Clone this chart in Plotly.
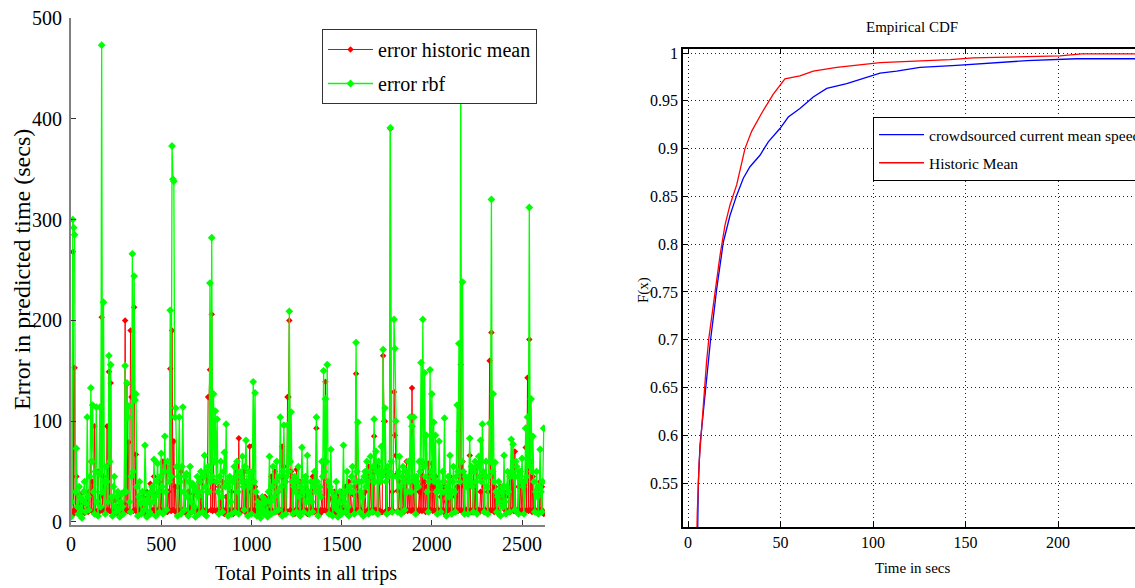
import plotly.graph_objects as go

W, H = 1135, 588

# ---------------- Left chart data (sampled every 5 points) ----------------
point_index = list(range(0, 2625, 5))

error_historic_mean = [
    9, 11, 268, 8, 153, 12, 45, 10, 12, 10, 27, 10, 10, 12, 18, 9, 11, 12, 20, 10,
    30, 12, 60, 11, 40, 10, 95, 10, 8, 11, 50, 10, 25, 12, 203, 11, 45, 12, 12, 11,
    95, 12, 149, 11, 138, 10, 20, 10, 8, 12, 22, 9, 15, 12, 25, 10, 10, 11, 18, 10,
    200, 12, 137, 11, 79, 10, 190, 124, 124, 11, 213, 12, 67, 10, 25, 11, 12, 12, 15, 10,
    25, 11, 8, 12, 30, 10, 10, 10, 38, 11, 11, 12, 45, 10, 28, 12, 8, 11, 40, 12,
    30, 12, 60, 11, 11, 10, 55, 10, 30, 12, 152, 11, 190, 12, 80, 11, 35, 10, 8, 12,
    35, 11, 50, 12, 10, 10, 45, 10, 8, 12, 30, 11, 39, 10, 15, 12, 28, 11, 12, 12,
    10, 12, 40, 11, 25, 10, 45, 10, 8, 12, 50, 11, 124, 124, 151, 12, 206, 11, 60, 12,
    40, 11, 10, 12, 35, 10, 20, 10, 40, 11, 8, 12, 25, 10, 35, 12, 10, 11, 30, 10,
    8, 12, 40, 11, 50, 10, 83, 12, 10, 11, 45, 12, 50, 10, 40, 12, 30, 11, 75, 12,
    40, 11, 76, 12, 35, 10, 25, 12, 22, 11, 10, 24, 25, 10, 20, 25, 8, 22, 18, 11,
    30, 12, 45, 11, 10, 10, 50, 10, 40, 12, 30, 11, 8, 12, 75, 11, 55, 12, 40, 11,
    124, 124, 200, 12, 50, 11, 45, 10, 8, 12, 52, 11, 30, 12, 40, 10, 25, 11, 12, 12,
    35, 11, 8, 12, 25, 10, 30, 12, 45, 11, 10, 12, 93, 11, 30, 10, 8, 12, 25, 11,
    60, 12, 139, 11, 40, 10, 35, 12, 10, 22, 25, 11, 30, 12, 8, 20, 27, 11, 15, 22,
    30, 11, 25, 12, 35, 10, 8, 12, 40, 11, 30, 12, 10, 27, 35, 11, 147, 12, 40, 11,
    25, 12, 8, 27, 27, 11, 30, 10, 10, 12, 55, 11, 40, 12, 50, 10, 85, 12, 12, 11,
    55, 12, 40, 11, 10, 10, 165, 100, 100, 11, 50, 12, 12, 10, 390, 12, 30, 11, 129, 86,
    66, 47, 31, 12, 40, 11, 10, 12, 45, 10, 35, 12, 60, 11, 30, 12, 40, 11, 133, 12,
    40, 11, 35, 12, 10, 10, 30, 12, 50, 11, 58, 12, 40, 10, 35, 12, 58, 11, 49, 12,
    58, 11, 35, 12, 45, 10, 30, 12, 10, 11, 25, 12, 35, 10, 40, 12, 20, 11, 30, 12,
    45, 11, 30, 12, 10, 10, 25, 12, 35, 11, 90, 12, 156, 11, 60, 12, 35, 10, 12, 12,
    40, 11, 66, 12, 10, 10, 50, 12, 35, 11, 55, 12, 12, 10, 30, 12, 50, 11, 35, 12,
    10, 11, 30, 12, 160, 11, 188, 12, 50, 10, 35, 12, 25, 11, 8, 25, 35, 24, 20, 22,
    30, 12, 25, 11, 10, 12, 45, 10, 50, 12, 60, 11, 70, 12, 10, 10, 35, 12, 40, 11,
    35, 12, 40, 11, 74, 12, 143, 11, 181, 12, 60, 10, 45, 12, 30, 11, 10, 12, 35, 11,
    40, 12, 35, 11, 8,
]

error_rbf = [
    5, 20, 300, 292, 285, 30, 73, 15, 8, 35, 25, 12, 4, 22, 30, 40, 10, 18, 104, 25,
    12, 45, 133, 60, 116, 30, 8, 50, 114, 20, 6, 48, 114, 15, 473, 30, 218, 40, 8, 55,
    40, 20, 165, 60, 156, 25, 6, 35, 45, 15, 10, 25, 30, 12, 5, 20, 28, 15, 8, 30,
    155, 30, 138, 104, 115, 20, 10, 45, 266, 50, 244, 121, 127, 35, 6, 25, 40, 18, 8, 30,
    20, 12, 76, 18, 5, 22, 28, 10, 8, 30, 35, 20, 62, 25, 6, 40, 58, 30, 10, 45,
    68, 35, 8, 50, 85, 30, 12, 60, 50, 40, 210, 45, 373, 340, 338, 104, 113, 55, 6, 45,
    104, 40, 8, 55, 114, 30, 12, 45, 48, 25, 6, 40, 55, 20, 10, 38, 35, 15, 5, 30,
    45, 25, 8, 40, 50, 30, 10, 45, 66, 35, 6, 50, 55, 30, 237, 40, 282, 45, 127, 60,
    110, 40, 102, 30, 8, 45, 60, 25, 10, 50, 69, 35, 97, 40, 6, 35, 45, 20, 8, 40,
    40, 55, 10, 45, 60, 30, 8, 50, 45, 40, 65, 35, 12, 55, 81, 40, 6, 50, 35, 45,
    8, 50, 139, 40, 128, 30, 6, 20, 15, 10, 4, 18, 25, 12, 8, 22, 20, 10, 5, 30,
    65, 20, 8, 35, 55, 25, 10, 40, 60, 30, 12, 45, 104, 35, 6, 50, 96, 40, 8, 45,
    96, 50, 209, 60, 109, 40, 8, 35, 45, 30, 10, 40, 55, 25, 6, 35, 74, 30, 10, 40,
    45, 20, 66, 30, 8, 25, 40, 20, 10, 35, 50, 30, 104, 40, 6, 30, 35, 25, 60, 45,
    150, 50, 122, 60, 156, 40, 8, 35, 72, 30, 6, 20, 25, 15, 40, 12, 5, 20, 30, 10,
    8, 25, 76, 20, 10, 30, 50, 15, 6, 35, 30, 45, 55, 30, 8, 40, 178, 50, 99, 40,
    10, 30, 40, 25, 6, 45, 50, 35, 60, 40, 8, 50, 65, 45, 10, 55, 102, 40, 70, 50,
    8, 60, 50, 40, 75, 45, 171, 50, 113, 40, 8, 55, 45, 50, 391, 60, 10, 45, 201, 172,
    100, 45, 10, 50, 65, 35, 8, 45, 55, 40, 12, 50, 50, 30, 60, 40, 104, 30, 95, 45,
    104, 40, 8, 45, 40, 35, 60, 50, 158, 60, 201, 55, 148, 45, 86, 30, 10, 40, 151, 50,
    127, 45, 99, 40, 86, 30, 8, 40, 80, 35, 10, 30, 50, 40, 103, 30, 6, 35, 45, 25,
    66, 30, 8, 40, 55, 30, 10, 45, 116, 50, 177, 40, 450, 60, 238, 50, 8, 45, 40, 35,
    8, 45, 83, 40, 55, 35, 10, 50, 60, 40, 8, 55, 65, 45, 81, 40, 97, 50, 10, 45,
    60, 35, 8, 45, 98, 60, 320, 50, 127, 40, 59, 30, 10, 25, 40, 20, 6, 30, 35, 15,
    66, 20, 8, 35, 50, 30, 10, 45, 82, 50, 77, 45, 12, 60, 55, 45, 8, 50, 50, 40,
    63, 35, 8, 40, 93, 45, 104, 60, 312, 55, 122, 50, 85, 40, 10, 30, 50, 25, 8, 35,
    72, 30, 10, 40, 93,
]

# ---------------- Right chart data (empirical CDF) ----------------
hist_x = [4.3, 5.0, 6.0, 7.0, 8.3, 10.0, 11.3, 12.8, 14.6, 17.3, 20.0, 22.7, 26.3,
          30.8, 34.4, 39.8, 46.1, 52.4, 60.5, 67.7, 80.4, 93.0, 103.8, 129.0,
          141.6, 154.2, 181.2, 201.0, 212.8, 245.0]
hist_F = [0.45, 0.518, 0.571, 0.599, 0.637, 0.676, 0.702, 0.725, 0.750, 0.788, 0.820,
          0.841, 0.862, 0.900, 0.918, 0.937, 0.957, 0.973, 0.976, 0.981, 0.985,
          0.988, 0.990, 0.992, 0.993, 0.995, 0.996, 0.997, 0.999, 0.999]

crowd_x = [5.0, 5.6, 6.5, 7.5, 9.2, 10.8, 12.2, 13.8, 15.5, 19.1, 22.7, 26.3, 29.9,
           33.5, 38.9, 43.4, 49.7, 54.2, 60.5, 67.7, 75.0, 85.8, 96.6, 103.8,
           112.8, 125.4, 145.2, 170.4, 183.0, 210.0, 245.0]
crowd_F = [0.47, 0.55, 0.59, 0.61, 0.637, 0.67, 0.70, 0.725, 0.753, 0.802, 0.830,
           0.851, 0.869, 0.881, 0.893, 0.907, 0.921, 0.933, 0.942, 0.954, 0.963,
           0.968, 0.975, 0.979, 0.981, 0.985, 0.987, 0.990, 0.992, 0.994, 0.994]

x_ticks_left = [0, 500, 1000, 1500, 2000, 2500]
y_ticks_left = [0, 100, 200, 300, 400, 500]
x_ticks_right = [0, 50, 100, 150, 200]
y_ticks_right = [0.55, 0.6, 0.65, 0.7, 0.75, 0.8, 0.85, 0.9, 0.95, 1]
y_tick_text_right = ["0.55", "0.6", "0.65", "0.7", "0.75", "0.8", "0.85", "0.9", "0.95", "1"]

SERIF = "Liberation Serif, Times New Roman, serif"


def px_x(p):
    return p / W


def px_y(p):
    return 1 - p / H


fig = go.Figure()

fig.add_trace(go.Scatter(
    x=point_index, y=error_historic_mean, mode="lines+markers",
    name="error historic mean", line=dict(color="#ff0000", width=1),
    marker=dict(symbol="diamond", size=5, color="#ff0000"),
    xaxis="x", yaxis="y", legend="legend", legendgroup="a",
))
fig.add_trace(go.Scatter(
    x=point_index, y=error_rbf, mode="lines+markers",
    name="error rbf", line=dict(color="#00ff00", width=1.3),
    marker=dict(symbol="diamond", size=6, color="#00ff00"),
    xaxis="x", yaxis="y", legend="legend", legendgroup="b",
))

fig.add_trace(go.Scatter(
    x=crowd_x, y=crowd_F, mode="lines", name="crowdsourced current mean speed",
    line=dict(color="#0000ff", width=1.3), xaxis="x2", yaxis="y2",
    legend="legend2", legendgroup="c",
))
fig.add_trace(go.Scatter(
    x=hist_x, y=hist_F, mode="lines", name="Historic Mean",
    line=dict(color="#ff0000", width=1.3), xaxis="x2", yaxis="y2",
    legend="legend2", legendgroup="d",
))

GRID_DASH = "1px,3px"

fig.update_layout(
    width=W, height=H,
    margin=dict(l=0, r=0, t=0, b=0, autoexpand=False),
    paper_bgcolor="white", plot_bgcolor="white",
    font=dict(family=SERIF, color="black"),
    xaxis=dict(
        domain=[px_x(71), px_x(545)], range=[0, 2627],
        tickvals=x_ticks_left, ticks="inside", ticklen=5, tickcolor="#333",
        showline=True, linecolor="#808080", linewidth=1.5,
        showgrid=False, zeroline=False, tickfont=dict(size=20, family=SERIF),
        anchor="y",
    ),
    yaxis=dict(
        domain=[px_y(525), px_y(18)], range=[-3, 500],
        tickvals=y_ticks_left, ticks="inside", ticklen=5, tickcolor="#333",
        showline=True, linecolor="#808080", linewidth=2,
        showgrid=False, zeroline=False, tickfont=dict(size=20, family=SERIF),
        ticklabelstandoff=3, anchor="x",
    ),
    xaxis2=dict(
        domain=[px_x(683), 1.0], range=[-2.7, 241.6],
        tickvals=x_ticks_right, ticks="inside", ticklen=5, tickcolor="black",
        showline=True, linecolor="black", linewidth=1.5, mirror="ticks",
        showgrid=True, gridcolor="#222", griddash=GRID_DASH, gridwidth=1,
        zeroline=False, tickfont=dict(size=16, family=SERIF), anchor="y2",
    ),
    yaxis2=dict(
        domain=[px_y(527), px_y(49)], range=[0.504, 1.0042],
        tickvals=y_ticks_right, ticktext=y_tick_text_right,
        ticks="inside", ticklen=5, tickcolor="black",
        showline=True, linecolor="black", linewidth=1.5,
        showgrid=True, gridcolor="#222", griddash=GRID_DASH, gridwidth=1,
        zeroline=False, tickfont=dict(size=16, family=SERIF), anchor="x2",
    ),
    legend=dict(
        x=px_x(322), y=px_y(29), xanchor="left", yanchor="top",
        bgcolor="white", bordercolor="#333", borderwidth=1,
        font=dict(size=20, family=SERIF), tracegroupgap=5, itemwidth=45,
    ),
    legend2=dict(
        x=px_x(873), y=px_y(117), xanchor="left", yanchor="top",
        bgcolor="white", bordercolor="black", borderwidth=1,
        font=dict(size=15.5, family=SERIF), tracegroupgap=5, itemwidth=45,
    ),
    showlegend=True,
)

annotations = [
    dict(text="Error in predicted time (secs)", x=px_x(22), y=px_y(270),
         textangle=-90, font=dict(size=24, family=SERIF)),
    dict(text="Total Points in all trips", x=px_x(306), y=px_y(573),
         font=dict(size=20, family=SERIF)),
    dict(text="Empirical CDF", x=px_x(912), y=px_y(27),
         font=dict(size=15, family=SERIF)),
    dict(text="Time in secs", x=px_x(912), y=px_y(568),
         font=dict(size=15, family=SERIF)),
    dict(text="F(x)", x=px_x(643), y=px_y(290), textangle=-90,
         font=dict(size=15, family=SERIF)),
]
for a in annotations:
    a.update(xref="paper", yref="paper", showarrow=False,
             xanchor="center", yanchor="middle")
fig.update_layout(annotations=annotations)

fig.write_html("out.html")
